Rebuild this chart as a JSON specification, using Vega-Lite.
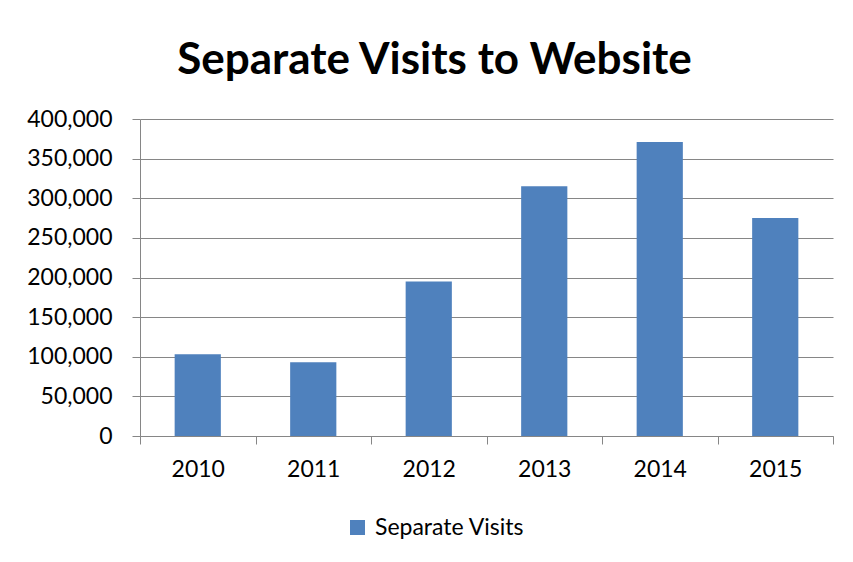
{
  "$schema": "https://vega.github.io/schema/vega-lite/v6.json",
  "autosize": "none",
  "width": 693,
  "height": 317,
  "padding": {"left": 140, "top": 119, "right": 20, "bottom": 126},
  "background": "white",
  "title": {
    "text": "Separate Visits to Website",
    "font": "Lato",
    "fontSize": 44,
    "fontWeight": "bold",
    "color": "black",
    "anchor": "middle",
    "baseline": "alphabetic",
    "offset": -10,
    "dx": -52
  },
  "data": {
    "values": [
      {"year": "2010", "visits": 103000, "series": "Separate Visits"},
      {"year": "2011", "visits": 93000, "series": "Separate Visits"},
      {"year": "2012", "visits": 195000, "series": "Separate Visits"},
      {"year": "2013", "visits": 315000, "series": "Separate Visits"},
      {"year": "2014", "visits": 371000, "series": "Separate Visits"},
      {"year": "2015", "visits": 275000, "series": "Separate Visits"}
    ]
  },
  "mark": {"type": "bar", "width": {"band": 0.4}},
  "encoding": {
    "x": {
      "field": "year",
      "type": "nominal",
      "scale": {"paddingInner": 0, "paddingOuter": 0},
      "axis": {
        "title": null,
        "labelAngle": 0,
        "labelFont": "Lato",
        "labelFontSize": 23,
        "labelColor": "black",
        "labelPadding": 14,
        "domainColor": "#868686",
        "tickColor": "#868686",
        "tickSize": 8,
        "tickBand": "extent",
        "grid": false
      }
    },
    "y": {
      "field": "visits",
      "type": "quantitative",
      "scale": {"domain": [0, 400000]},
      "axis": {
        "title": null,
        "values": [0, 50000, 100000, 150000, 200000, 250000, 300000, 350000, 400000],
        "format": ",d",
        "labelFont": "Lato",
        "labelFontSize": 23,
        "labelColor": "black",
        "labelPadding": 20,
        "domainColor": "#868686",
        "tickColor": "#868686",
        "tickSize": 8,
        "grid": true,
        "gridColor": "#868686",
        "gridOpacity": 1
      }
    },
    "color": {
      "field": "series",
      "type": "nominal",
      "scale": {"range": ["#4F81BD"]},
      "legend": {
        "title": null,
        "orient": "none",
        "legendX": 206,
        "legendY": 397,
        "padding": 0,
        "symbolType": "square",
        "symbolSize": 225,
        "symbolStrokeWidth": 0,
        "labelFont": "Lato",
        "labelFontSize": 23,
        "labelColor": "black",
        "labelOffset": 6
      }
    }
  },
  "config": {
    "view": {"stroke": null}
  }
}
